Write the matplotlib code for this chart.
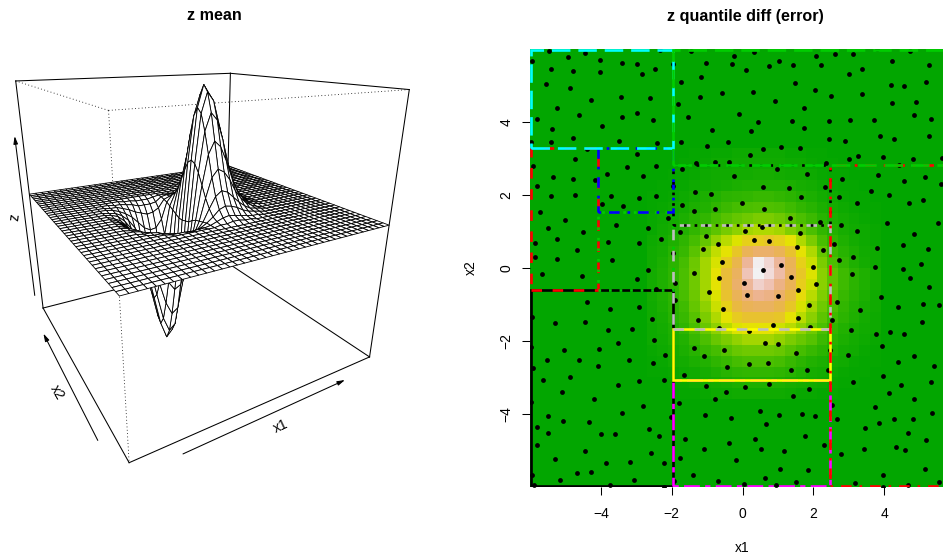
import numpy as np
import matplotlib
matplotlib.use('Agg')
import matplotlib.pyplot as plt
from matplotlib.collections import PolyCollection
from matplotlib.colors import ListedColormap, hsv_to_rgb
from matplotlib.patches import Rectangle

plt.rcParams['font.family'] = ['Liberation Sans', 'DejaVu Sans']

W, H = 943, 554

# --- z mean surface: flat outside this block, rows are x2 index 11-28, cols x1 index 8-29
z_rows = [
    [0,0,0,0,0,0,0,0,0,0,0,.01,.01,.02,.02,.01,.01,0,0,0,0,0],
    [0,0,0,0,-.01,-.01,-.01,-.02,-.01,-.01,0,.02,.04,.05,.04,.03,.02,.01,.01,0,0,0],
    [0,0,-.01,-.01,-.02,-.03,-.04,-.04,-.04,-.03,0,.04,.09,.11,.10,.08,.05,.03,.02,.01,0,0],
    [0,-.01,-.01,-.02,-.04,-.07,-.09,-.10,-.10,-.07,-.01,.09,.18,.22,.20,.15,.10,.06,.03,.02,.01,0],
    [0,-.01,-.03,-.05,-.09,-.14,-.19,-.21,-.20,-.14,-.02,.16,.32,.38,.35,.28,.18,.11,.06,.03,.01,0],
    [-.01,-.02,-.05,-.09,-.16,-.25,-.34,-.39,-.37,-.26,-.03,.25,.49,.59,.54,.42,.28,.16,.09,.04,.02,.01],
    [-.01,-.03,-.07,-.14,-.26,-.40,-.55,-.63,-.60,-.42,-.05,.34,.66,.80,.74,.58,.38,.22,.12,.06,.02,.01],
    [-.02,-.05,-.11,-.20,-.37,-.57,-.77,-.89,-.85,-.59,-.08,.40,.79,.95,.88,.69,.46,.27,.14,.07,.03,.01],
    [-.02,-.06,-.13,-.25,-.45,-.70,-.95,-1.09,-1.04,-.73,-.09,.42,.83,1.0,.92,.72,.48,.28,.15,.07,.03,.01],
    [-.02,-.06,-.14,-.27,-.49,-.76,-1.03,-1.19,-1.13,-.79,-.10,.39,.76,.92,.84,.66,.44,.26,.14,.06,.03,.01],
    [-.02,-.06,-.13,-.26,-.47,-.72,-.98,-1.13,-1.07,-.75,-.10,.31,.61,.74,.68,.53,.36,.21,.11,.05,.02,.01],
    [-.02,-.05,-.11,-.21,-.39,-.60,-.81,-.94,-.89,-.62,-.08,.22,.43,.52,.48,.37,.25,.15,.08,.04,.02,.01],
    [-.01,-.03,-.08,-.16,-.28,-.44,-.60,-.69,-.66,-.46,-.06,.13,.27,.32,.29,.23,.15,.09,.05,.02,.01,0],
    [-.01,-.02,-.05,-.10,-.18,-.29,-.39,-.45,-.42,-.30,-.04,.07,.15,.18,.16,.13,.08,.05,.03,.01,.01,0],
    [0,-.01,-.03,-.06,-.10,-.16,-.22,-.25,-.24,-.17,-.02,.04,.07,.09,.08,.06,.04,.02,.01,.01,0,0],
    [0,-.01,-.01,-.03,-.05,-.08,-.10,-.12,-.11,-.08,-.01,.01,.03,.04,.03,.03,.02,.01,.01,0,0,0],
    [0,0,-.01,-.01,-.02,-.03,-.05,-.05,-.05,-.04,0,.01,.01,.01,.01,.01,.01,0,0,0,0,0],
    [0,0,0,0,-.01,-.01,-.02,-.02,-.02,-.01,0,0,0,0,0,0,0,0,0,0,0,0],
]

# --- quantile diff, percent of the colour range; rows from the top 9-31, cols 11-32
err_rows = [
    [0,1,1,1,2, 2,3,3,4,4,4,4,4,3,3,2, 2,1,1,1,0,0],
    [1,1,1,2,2, 3,4,4,5,5,5,5,5,4,4,3, 2,2,1,1,1,0],
    [1,1,2,2,3, 4,5,5,6,6,7,7,6,5,5,4, 3,2,2,1,1,1],
    [1,2,2,3,4, 5,6,7,8,9,9,9,9,8,7,6, 4,3,2,2,1,1],
    [2,2,3,4,6, 8,10,12,13,14,15,15,14,12,10,8, 6,4,3,2,2,1],
    [2,3,4,6,8, 10,13,16,18,20,21,21,20,17,14,11, 8,6,4,3,2,2],
    [3,4,6,8,11, 14,18,22,25,28,30,30,28,24,20,16, 11,8,6,4,3,2],
    [3,5,7,10,14, 18,24,29,34,38,40,40,38,32,26,20, 14,10,7,5,4,3],
    [4,6,9,13,18, 25,35,42,48,55,56,58,55,50,40,30, 19,13,9,6,4,3],
    [5,7,11,15,23, 33,43,50,58,68,72,72,68,60,50,40, 25,16,11,8,5,4],
    [5,8,12,18,27, 38,47,57,66,82,99,93,82,68,55,45, 30,20,14,9,6,4],
    [6,9,13,20,28, 38,50,62,70,88,100,95,85,70,58,48, 33,24,17,12,9,6],
    [6,9,13,20,28, 38,50,62,72,82,92,87,78,68,56,46, 33,24,17,12,9,6],
    [6,9,13,19,27, 38,48,60,68,75,80,78,72,64,52,42, 31,22,15,11,8,5],
    [5,8,12,17,25, 34,45,55,64,68,70,70,66,58,47,38, 28,20,14,10,7,5],
    [5,7,11,15,22, 30,40,50,57,60,60,60,58,50,42,33, 24,17,12,9,6,4],
    [4,6,9,13,19, 26,34,42,48,50,50,50,46,42,35,28, 20,14,10,7,5,4],
    [4,5,8,10,15, 20,26,30,35,38,38,38,35,30,26,22, 16,11,8,6,4,3],
    [3,4,6,8,11, 15,18,22,26,28,28,28,26,22,18,15, 12,9,6,5,3,2],
    [2,3,5,6,8, 10,13,15,18,20,20,20,18,15,12,10, 8,6,5,3,2,2],
    [2,2,3,4,5, 7,9,11,13,14,14,14,13,11,9,7, 6,4,3,2,2,1],
    [1,1,2,3,4, 5,6,7,8,9,9,9,8,7,6,5, 4,3,2,2,1,1],
    [0,1,1,2,2, 3,4,4,5,5,5,5,5,4,3,3, 2,2,1,1,1,0],
]

# --- sampled locations
pts_x1 = [
    -5.47,-4.92,-4.45,-5.95,-4.02,-3.41,-2.98,-5.41,-4.78,-4.03,-2.85,-2.46,-1.95,-2.32,-1.46,-.25,.33,2.08,2.61,3.12,
    3.79,4.73,-1.03,-.29,.75,1.04,1.43,2.23,.10,4.21,5.26,3.01,3.38,-5.55,-4.87,-1.73,-1.16,1.49,-.58,.30,
    2.06,2.49,3.38,4.20,4.57,5.18,-1.21,-4.29,-3.44,-2.61,-5.25,-4.63,-2.97,-3.39,-5.80,-2.54,-3.98,-5.39,-1.82,.93,
    1.73,4.21,4.90,-.11,-1.54,.43,1.40,2.45,3.04,3.72,4.84,5.32,-.87,.25,1.74,-4.79,-5.98,-5.42,-3.48,-2.42,
    -1.75,-.42,-1.01,.58,1.09,1.62,2.44,2.89,3.88,4.29,5.27,-4.40,-2.99,.21,-4.72,3.01,3.25,3.98,4.81,5.64,
    -1.31,-.79,-.39,2.36,4.41,-5.92,-3.25,-2.44,-1.71,.98,-.24,1.82,2.81,3.83,4.56,5.14,-5.34,-4.80,-4.17,-2.82,
    -3.83,-5.81,-1.96,.59,1.30,2.32,5.61,-1.34,-.88,3.64,-5.42,-4.72,-3.72,-2.91,-2.45,1.66,2.72,4.14,-.02,-1.71,
    3.22,4.71,5.11,-3.97,-3.37,-.79,.62,-1.36,-5.73,-2.11,-5.01,1.35,2.19,2.78,4.07,5.51,-3.57,-2.68,.56,-5.50,
    -1.77,.06,-4.51,1.63,3.22,4.85,-1.02,-5.25,-2.30,.33,.75,-5.86,-3.79,-2.91,-.68,2.57,4.52,-1.12,1.53,-4.66,
    2.26,3.80,5.25,-1.96,-5.87,-5.23,-3.69,2.73,3.12,-.57,1.08,1.99,3.73,5.03,-2.68,-1.36,.57,3.08,4.52,-5.67,
    -4.54,-.67,1.38,4.72,-2.97,-1.90,.05,2.08,5.26,-2.45,-.95,1.56,.12,.99,3.90,-4.40,2.66,1.88,4.38,5.10,
    5.55,-2.93,-3.73,-.56,3.31,-1.90,-5.93,-2.55,-1.25,1.57,-5.30,-4.45,2.53,5.07,.87,-3.12,-3.79,-.67,1.90,.18,
    3.06,3.76,4.16,4.55,-2.50,-3.52,.63,1.01,-5.98,3.94,-1.36,-.52,-4.04,-5.03,1.51,-2.20,2.97,4.84,-1.10,-5.53,
    -4.62,-3.20,4.40,2.48,-5.91,-4.07,-2.53,.19,.71,-.45,1.37,1.82,2.41,5.41,-5.63,-4.88,-2.92,-2.22,-1.66,3.97,
    -3.51,3.11,5.32,4.48,-1.03,.07,.75,1.87,-5.11,-.48,4.13,1.43,-4.20,-.77,4.84,-5.96,-1.78,2.54,-2.81,3.74,
    -3.41,.49,-5.49,-1.05,-.32,1.03,1.67,2.04,5.35,-2.02,-5.07,-4.33,.65,2.66,4.27,4.82,3.85,-5.80,-2.65,3.45,
    -5.48,-3.99,-3.61,4.67,-2.35,1.76,-1.61,.36,5.18,-.37,2.31,-5.81,-1.10,.52,1.17,3.42,4.32,4.59,-4.45,-2.59,
    2.78,-5.30,-1.77,-.18,-3.86,-3.18,-2.22,3.97,1.06,1.86,5.16,-5.93,-4.68,-4.28,-1.39,-5.16,-3.05,.64,-5.90,-3.75,
    -.68,.05,1.50,.94,3.19,4.68,5.54,3.96,-1.93,-2.23,
]
pts_x2 = [
    5.95,5.78,5.88,5.66,5.70,5.62,5.60,5.46,5.41,5.38,5.31,5.45,5.59,5.97,5.95,5.82,5.92,5.80,5.85,5.85,
    5.99,5.95,5.63,5.58,5.53,5.67,5.56,5.55,5.42,5.68,5.55,5.31,5.44,5.03,4.94,5.09,5.23,5.07,4.79,4.83,
    4.87,4.72,4.77,5.02,5.00,5.10,4.68,4.59,4.68,4.66,4.37,4.18,4.26,4.13,4.07,4.06,3.88,3.80,4.49,4.57,
    4.39,4.52,4.55,4.22,4.14,3.99,4.03,4.03,4.05,4.06,4.18,4.09,3.79,3.74,3.83,3.57,3.46,3.44,3.48,3.43,
    3.44,3.46,3.35,3.26,3.31,3.29,3.53,3.48,3.63,3.54,3.62,3.27,3.11,3.09,2.98,3.00,3.06,3.04,3.00,3.01,
    2.88,2.90,2.91,2.87,2.81,2.79,2.76,2.80,2.72,2.70,2.53,2.57,2.45,2.54,2.39,2.49,2.49,2.45,2.40,2.53,
    2.57,2.26,2.24,2.22,2.18,2.23,2.30,2.09,2.03,2.12,1.98,2.00,1.96,1.93,1.98,1.95,1.94,2.01,1.79,1.72,
    1.77,1.77,1.85,1.75,1.69,1.63,1.62,1.56,1.53,1.37,1.31,1.38,1.27,1.19,1.23,1.22,1.19,1.10,1.12,1.10,
    .98,1.01,.99,.95,1.01,.92,.89,.79,.79,.77,.73,.69,.72,.68,.65,.65,.63,.51,.57,.49,
    .50,.56,.51,.40,.31,.25,.21,.23,.29,.17,.09,.03,.03,.10,-.06,-.14,-.06,-.17,-.04,-.17,
    -.23,-.27,-.25,-.27,-.31,-.40,-.40,-.43,-.52,-.58,-.67,-.60,-.74,-.77,-.80,-.94,-.94,-1.00,-1.06,-.98,
    -1.02,-1.06,-1.13,-1.11,-1.15,-.89,-1.33,-1.41,-1.43,-1.36,-1.52,-1.47,-1.42,-1.47,-1.57,-1.66,-1.70,-1.65,-1.63,-1.73,
    -1.69,-1.81,-1.75,-1.80,-1.96,-2.05,-2.05,-2.07,-2.17,-2.13,-2.20,-2.26,-2.23,-2.25,-2.32,-2.38,-2.37,-2.40,-2.42,-2.52,
    -2.52,-2.53,-2.57,-2.25,-2.73,-2.69,-2.61,-2.63,-2.60,-2.72,-2.80,-2.80,-2.80,-2.69,-3.08,-2.99,-3.10,-3.06,-2.92,-2.97,
    -3.20,-3.11,-3.12,-3.20,-3.24,-3.27,-3.17,-3.31,-3.39,-3.41,-3.42,-3.50,-3.59,-3.60,-3.58,-3.66,-3.71,-3.74,-3.79,-3.82,
    -3.97,-3.92,-4.05,-4.04,-4.11,-4.02,-4.00,-4.06,-3.98,-4.09,-4.19,-4.21,-4.27,-4.15,-4.14,-4.14,-4.26,-4.36,-4.42,-4.38,
    -4.52,-4.54,-4.55,-4.51,-4.60,-4.59,-4.68,-4.68,-4.71,-4.79,-4.86,-4.84,-4.95,-4.96,-5.00,-4.97,-4.91,-4.99,-5.02,-5.07,
    -5.10,-5.23,-5.20,-5.27,-5.33,-5.32,-5.35,-5.67,-5.52,-5.54,-5.52,-5.66,-5.63,-5.60,-5.68,-5.80,-5.82,-5.75,-5.94,-5.94,
    -5.83,-5.92,-5.85,-5.95,-5.89,-5.94,-5.85,-5.99,-5.83,-5.99,
]

# --- partition rectangles: x1 low, x2 low, x1 high, x2 high
rect_x1lo = [-5.97, -5.97, -4.07, -4.07, -5.97, -1.96, -1.96, -1.96, -1.96, 2.48, -1.96]
rect_x2lo = [-5.97, -.6, -.6, 1.53, 3.29, -5.97, -3.07, -1.66, 1.19, -5.97, 2.82]
rect_x1hi = [-1.96, -4.07, -1.96, -1.96, -1.96, 2.48, 2.48, 2.48, 2.48, 6, 6]
rect_x2hi = [-.6, 3.29, 1.53, 3.29, 5.98, -3.07, -1.66, 1.19, 2.82, 2.82, 5.98]
rect_col = ['black', 'red', '#00cd00', 'blue', 'cyan', 'magenta', 'yellow', '#bebebe', 'black', 'red', '#00cd00']
rect_lty = [(0, ()), (0, (4, 4)), (0, (1, 3)), (0, (1, 3, 4, 3)), (0, (7, 3)), (0, (2, 2, 6, 2)),
            (0, ()), (0, (4, 4)), (0, (1, 3)), (0, (1, 3, 4, 3)), (0, (7, 3))]

ticks = [-4, -2, 0, 2, 4]


def axes_px(fig, left, top, right, bottom):
    return fig.add_axes([left / W, 1 - bottom / H, (right - left) / W, (bottom - top) / H])


def terrain_colors(n):
    k = n // 2
    lo = np.c_[np.linspace(4 / 12, 2 / 12, k), np.ones(k), np.linspace(.65, .9, k)]
    hi = np.c_[np.linspace(2 / 12, 0, n - k + 1), np.linspace(1, 0, n - k + 1), np.linspace(.9, .95, n - k + 1)][1:]
    return ListedColormap(hsv_to_rgb(np.vstack([lo, hi])))


# same viewing transform as persp(theta=-30, phi=20, r=sqrt(3), d=1)
def project(x, y, z):
    c, s = np.cos(np.radians(30)), np.sin(np.radians(30))
    cp, sp = np.cos(np.radians(20)), np.sin(np.radians(20))
    xv = c * x - s * y
    zv = -s * x - c * y
    yy = z * cp - zv * sp
    zz = z * sp + zv * cp
    w = 1 + np.sqrt(3) + 1 - zz
    return xv / w, yy / w


fig = plt.figure(figsize=(W / 100, H / 100), dpi=100)

# left panel
grid = np.linspace(-6, 6, 40)
z = np.zeros((40, 40))
z[11:29, 8:30] = np.array(z_rows)
zc = (z.max() + z.min()) / 2
zs = (z.max() - z.min()) / 2

ax = axes_px(fig, 15.7, 73.3, 409.3, 462.7)
cube = np.array([[a, b, c] for a in (-1, 1) for b in (-1, 1) for c in (-1, 1)], float)
cx, cy = project(cube[:, 0], cube[:, 1], cube[:, 2])
ax.set_xlim(cx.min(), cx.max())
ax.set_ylim(cy.min(), cy.max())
ax.axis('off')

solid_edges = [((-1, 1, 1), (1, 1, 1)), ((1, 1, 1), (1, -1, 1)), ((-1, 1, 1), (-1, 1, -1)), ((1, -1, 1), (1, -1, -1)),
               ((1, 1, 1), (1, 1, -1)), ((-1, 1, -1), (1, 1, -1)), ((1, 1, -1), (1, -1, -1)),
               ((-1, 1, -1), (-1, -1, -1)), ((-1, -1, -1), (1, -1, -1))]
dotted_edges = [((-1, -1, 1), (-1, 1, 1)), ((-1, -1, 1), (1, -1, 1)), ((-1, -1, 1), (-1, -1, -1))]
for a, b in solid_edges:
    px, py = project(np.array([a[0], b[0]], float), np.array([a[1], b[1]], float), np.array([a[2], b[2]], float))
    ax.plot(px, py, color='black', lw=.75, clip_on=False, zorder=1)
for a, b in dotted_edges:
    px, py = project(np.array([a[0], b[0]], float), np.array([a[1], b[1]], float), np.array([a[2], b[2]], float))
    ax.plot(px, py, color='black', lw=.6, ls=(0, (1, 3)), clip_on=False, zorder=1)

gx, gy = np.meshgrid(grid / 6, grid / 6)
sx, sy = project(gx, gy, (z - zc) / zs)
polys = []
for i in range(38, -1, -1):
    for j in range(38, -1, -1):
        polys.append([(sx[j, i], sy[j, i]), (sx[j, i + 1], sy[j, i + 1]),
                      (sx[j + 1, i + 1], sy[j + 1, i + 1]), (sx[j + 1, i], sy[j + 1, i])])
ax.add_collection(PolyCollection(polys, facecolors='white', edgecolors='black', linewidths=.6, zorder=2))

arrows = [((-.7, -1.1, -1), (.63, -1.1, -1)), ((-1.1, -.75, -1), (-1.1, .58, -1)), ((-1.05, 1.05, -.88), (-1.05, 1.05, .57))]
for a, b in arrows:
    p0 = project(*map(float, a))
    p1 = project(*map(float, b))
    ax.annotate('', xy=p1, xytext=p0, annotation_clip=False,
                arrowprops=dict(arrowstyle='-|>,head_length=.45,head_width=.13', lw=.75, color='black',
                                shrinkA=0, shrinkB=0))
ax.text(*project(-.06, -1.22, -1.), 'x1', rotation=25, fontsize=10, ha='center', va='center')
ax.text(*project(-1.2, -.2, -1.), 'x2', rotation=-60, fontsize=10, ha='center', va='center')
ax.text(*project(-1.12, 1.12, -.13), 'z', rotation=84, fontsize=10, ha='center', va='center')
fig.text(214.5 / W, 1 - 16 / H, 'z mean', fontsize=11.6, fontweight='bold', ha='center', va='center')

# right panel, runs past the right edge of the figure
ax2 = axes_px(fig, 530, 49, 955, 487)
err = np.ones((40, 40))
err[9:32, 11:33] = np.maximum(np.array(err_rows), 1)
ax2.imshow(err, extent=(-6, 6, -6, 6), aspect='auto', cmap=terrain_colors(128), vmin=0, vmax=100,
           interpolation='nearest', zorder=1)
ax2.scatter(pts_x1, pts_x2, s=12, color='black', linewidths=0, zorder=2)
for i in range(len(rect_x1lo)):
    ax2.add_patch(Rectangle((rect_x1lo[i], rect_x2lo[i]), rect_x1hi[i] - rect_x1lo[i], rect_x2hi[i] - rect_x2lo[i],
                            fill=False, edgecolor=rect_col[i], linewidth=1.9, linestyle=rect_lty[i],
                            capstyle='butt', zorder=3))
ax2.set_xlim(-6, 6)
ax2.set_ylim(-6, 6)
for sp in ax2.spines.values():
    sp.set_visible(False)
ax2.set_xticks(ticks)
ax2.set_yticks(ticks)
ax2.tick_params(length=6, width=.75, labelsize=10)
ax2.tick_params(axis='x', pad=8.5)
ax2.tick_params(axis='y', pad=6)
plt.setp(ax2.get_yticklabels(), rotation=90, va='center')
fig.text(742 / W, 1 - 548 / H, 'x1', fontsize=10, ha='center', va='center')
fig.text(471 / W, 1 - 268 / H, 'x2', fontsize=10, rotation=90, ha='center', va='center')
fig.text(745 / W, 1 - 16 / H, 'z quantile diff (error)', fontsize=11.6, fontweight='bold', ha='center', va='center')

fig.savefig('out.png', dpi=100)
